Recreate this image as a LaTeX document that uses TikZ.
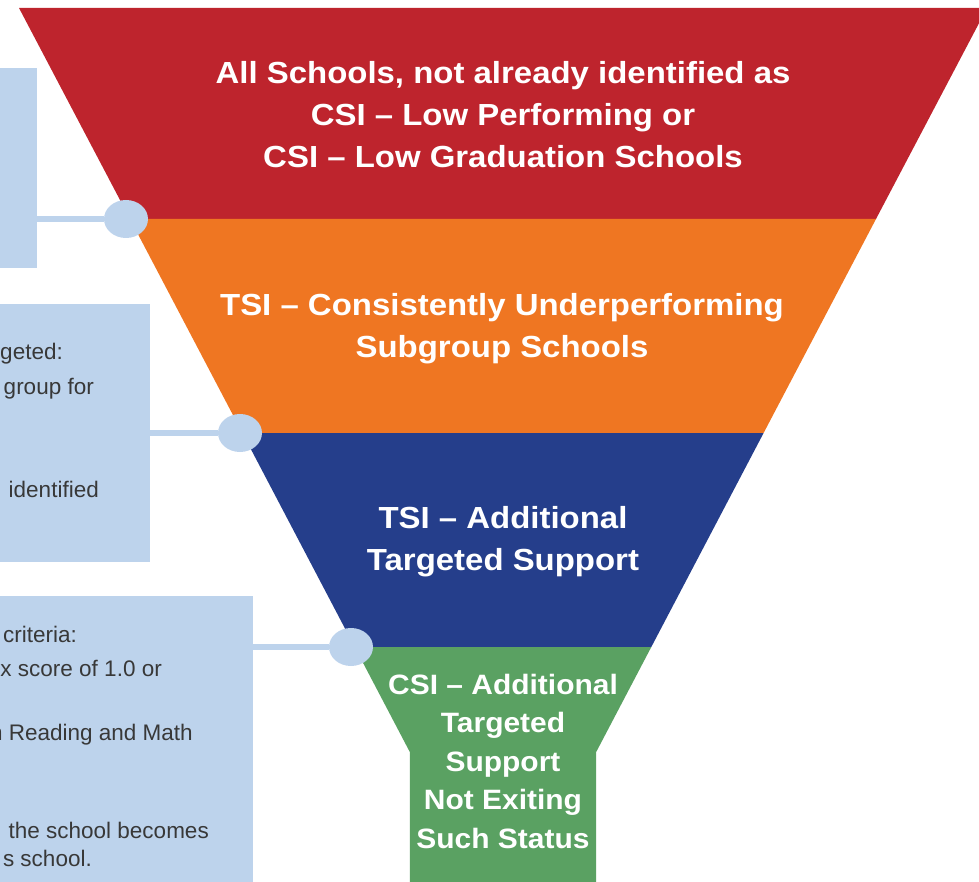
\documentclass[tikz,border=0pt]{standalone}
\usepackage{fontspec}
\setmainfont{Liberation Sans}
\newfontfamily\titlefont[FakeStretch=1.08,Ligatures=TeX]{Liberation Sans}
\newfontfamily\greenfont[FakeStretch=1.07,Ligatures=TeX]{Liberation Sans}
\usetikzlibrary{shapes.geometric}
\definecolor{fred}{HTML}{BE242D}
\definecolor{forange}{HTML}{EF7622}
\definecolor{fblue}{HTML}{253E8B}
\definecolor{fgreen}{HTML}{5AA162}
\definecolor{lblue}{HTML}{BDD3EC}
\definecolor{boxtext}{HTML}{383838}
\tikzset{
  infobox/.style={fill=lblue, draw=none, anchor=north west, inner sep=0pt},
  joint/.style={ellipse, fill=lblue, draw=none, minimum width=44pt, minimum height=38pt, inner sep=0pt},
  link/.style={draw=lblue, line width=6pt},
  title/.style={text=white, align=center, inner sep=0pt, font=\titlefont\bfseries\fontsize{30.5}{42}\selectfont},
  smalltitle/.style={text=white, align=center, inner sep=0pt, font=\greenfont\bfseries\fontsize{28}{38.5}\selectfont},
  boxline/.style={text=boxtext, anchor=base east, inner sep=0pt, font=\fontsize{22.5}{26}\selectfont}
}
\begin{document}
\begin{tikzpicture}[x=1pt, y=-1pt]
\useasboundingbox (0,0) rectangle (979,882);
\begin{scope}
\clip (0,0) rectangle (979,882);
% funnel layers
\fill[fred] (19,8) -- (987,8) -- (876,219) -- (130,219) -- cycle;
\fill[forange] (130,219) -- (876,219) -- (763.6,433) -- (242.4,433) -- cycle;
\fill[fblue] (242.4,433) -- (763.6,433) -- (651.3,647) -- (354.7,647) -- cycle;
\fill[fgreen] (354.7,647) -- (651.3,647) -- (596.2,752) -- (596.2,890) -- (409.8,890) -- (409.8,752) -- cycle;
% info boxes
\node[infobox, minimum width=37pt, minimum height=200pt] (box1) at (0,68) {};
\node[infobox, minimum width=150pt, minimum height=258pt] (box2) at (0,304) {};
\node[infobox, minimum width=253pt, minimum height=300pt] (box3) at (0,596) {};
% joints
\node[joint] (c1) at (126,219) {};
\node[joint] (c2) at (240,433) {};
\node[joint] (c3) at (351,647) {};
\draw[link] (box1.east |- c1) -- (c1);
\draw[link] (box2.east |- c2) -- (c2);
\draw[link] (box3.east |- c3) -- (c3);
% titles
\node[title] (t1) at (503,115) {All Schools, not already identified as\\CSI – Low Performing or\\CSI – Low Graduation Schools};
\node[title] (t2) at (502,328.5) {TSI – Consistently Underperforming\\Subgroup Schools};
\node[title] (t3) at (503,542) {TSI – Additional\\Targeted Support};
\node[smalltitle] (t4) at (503,761) {CSI – Additional\\Targeted\\Support\\Not Exiting\\Such Status};
% box texts (cut at left edge)
\node[boxline] (b2a) at (63,359) {geted:};
\node[boxline] (b2b) at (94,394) {group for};
\node[boxline] (b2c) at (99,497) {identified};
\node[boxline] (b3a) at (77,642) {criteria:};
\node[boxline] (b3b) at (162,676) {x score of 1.0 or};
\node[boxline] (b3c) at (193,740) {n Reading and Math};
\node[boxline] (b3d) at (209,838) {the school becomes};
\node[boxline] (b3e) at (92,866) {s school.};
\end{scope}
\end{tikzpicture}
\end{document}
